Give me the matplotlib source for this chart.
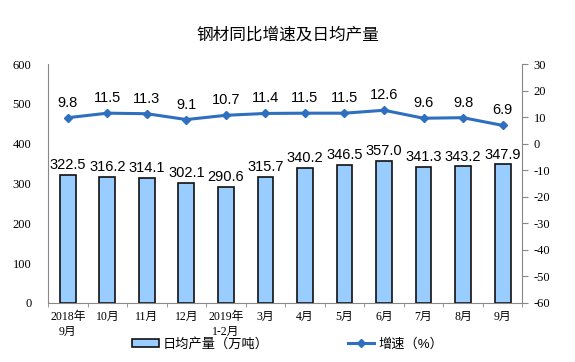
import numpy as np
import matplotlib.pyplot as plt

plt.rcParams['font.family'] = ['Liberation Sans', 'Noto Sans CJK SC']
plt.rcParams['axes.unicode_minus'] = False

months = ['2018年\n9月', '10月', '11月', '12月', '2019年\n1-2月', '3月',
          '4月', '5月', '6月', '7月', '8月', '9月']
output = [322.5, 316.2, 314.1, 302.1, 290.6, 315.7,
          340.2, 346.5, 357.0, 341.3, 343.2, 347.9]
growth = [9.8, 11.5, 11.3, 9.1, 10.7, 11.4, 11.5, 11.5, 12.6, 9.6, 9.8, 6.9]

tick_font = ['Liberation Serif', 'Noto Sans CJK SC']
x = np.arange(len(months))

fig = plt.figure(figsize=(5.75, 3.62), dpi=100)
ax1 = fig.add_axes([0.0835, 0.163, 0.825, 0.66])
ax2 = ax1.twinx()

bars = ax1.bar(x, output, width=0.4, color='#99CCFF', edgecolor='#111111',
               linewidth=1.2, label='日均产量（万吨）', zorder=2)
for xi, v in zip(x, output):
    ax1.text(xi, v + 7, f'{v:.1f}', ha='center', va='bottom', fontsize=10.5)

line, = ax2.plot(x, growth, color='#2E6FBF', linewidth=2.2, marker='D',
                 markersize=4, label='增速（%）', zorder=3)
for xi, v in zip(x, growth):
    ax2.text(xi, v + 3.0, f'{v:.1f}', ha='center', va='bottom', fontsize=10.5)

ax1.set_ylim(0, 600)
ax1.set_yticks(range(0, 601, 100))
ax2.set_ylim(-60, 30)
ax2.set_yticks(range(-60, 31, 10))
ax1.set_xlim(-0.5, len(months) - 0.5)
ax1.set_xticks(x)
ax1.set_xticklabels(months, family=tick_font, fontsize=8.5, linespacing=1.3)
ax1.set_xticks(np.arange(-0.5, len(months), 1), minor=True)
ax1.tick_params(axis='x', which='major', length=0, pad=6)
ax1.tick_params(axis='x', which='minor', length=3, color='#888888')

for lab in ax1.get_yticklabels() + ax2.get_yticklabels():
    lab.set_family(tick_font)
    lab.set_fontsize(9)
ax1.tick_params(axis='y', length=0, pad=12)
ax2.tick_params(axis='y', length=4, color='#888888', pad=4)

for ax in (ax1, ax2):
    ax.spines['top'].set_visible(False)
    for s in ('left', 'right', 'bottom'):
        ax.spines[s].set_color('#888888')
ax1.spines['right'].set_visible(False)
ax2.spines['left'].set_visible(False)
ax2.spines['bottom'].set_visible(False)

fig.text(0.5, 0.905, '钢材同比增速及日均产量', ha='center', va='center', fontsize=12)
fig.legend([bars, line], ['日均产量（万吨）', '增速（%）'], loc='center',
           bbox_to_anchor=(0.5, 0.05), ncol=2, frameon=False, fontsize=9.5,
           columnspacing=6, handlelength=2.0, handleheight=0.55, handletextpad=0.3)

fig.savefig('out.png', dpi=100)
